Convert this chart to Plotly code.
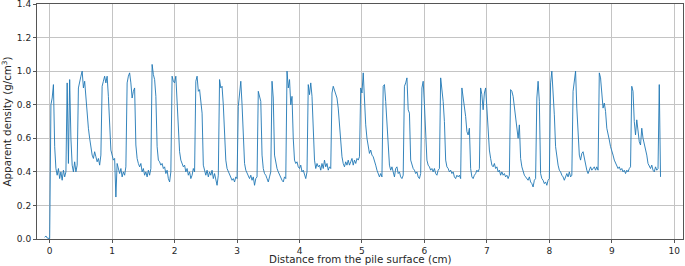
import numpy as np
import plotly.graph_objects as go

sample_start_cm = -0.10
sample_step_cm = 0.02

density = [
    # -0.10 .. 0.38
    None, 0.010, 0.018, 0.006, 0.004, 0.002, 0.80, 0.84, 0.92, 0.55, 0.42, 0.38, 0.42, 0.36, 0.40, 0.35, 0.41, 0.37, 0.40, 0.93, 0.45, 0.95, 0.60, 0.44, 0.40,
    # 0.40 .. 0.88
    0.46, 0.40, 0.44, 0.90, 0.95, 0.97, 1.00, 0.90, 0.94, 0.83, 0.75, 0.66, 0.60, 0.53, 0.50, 0.48, 0.52, 0.49, 0.46, 0.48, 0.44, 0.50, 0.91, 0.94, 0.97,
    # 0.90 .. 1.38
    0.93, 0.97, 0.85, 0.70, 0.53, 0.50, 0.47, 0.48, 0.25, 0.45, 0.42, 0.39, 0.42, 0.37, 0.40, 0.38, 0.43, 0.93, 0.97, 0.99, 0.93, 0.84, 0.88, 0.90, 0.56,
    # 1.40 .. 1.88
    0.48, 0.45, 0.43, 0.45, 0.40, 0.42, 0.38, 0.40, 0.37, 0.41, 0.38, 0.42, 1.04, 0.98, 0.95, 0.85, 0.55, 0.47, 0.46, 0.44, 0.45, 0.42, 0.43, 0.39, 0.41,
    # 1.90 .. 2.38
    0.36, 0.34, 0.40, 0.97, 0.94, 0.93, 0.97, 0.80, 0.66, 0.52, 0.47, 0.45, 0.43, 0.44, 0.40, 0.42, 0.38, 0.40, 0.36, 0.38, 0.42, 0.40, 0.94, 0.97, 0.88,
    # 2.40 .. 2.88
    0.89, 0.80, 0.75, 0.44, 0.40, 0.38, 0.41, 0.37, 0.40, 0.38, 0.41, 0.36, 0.39, 0.34, 0.32, 0.38, 0.95, 0.90, 0.91, 0.80, 0.62, 0.47, 0.42, 0.40, 0.38,
    # 2.90 .. 3.38
    0.37, 0.35, 0.36, 0.34, 0.37, 0.36, 0.79, 0.87, 0.94, 0.80, 0.60, 0.45, 0.41, 0.39, 0.37, 0.36, 0.38, 0.35, 0.37, 0.32, 0.36, 0.37, 0.88, 0.85, 0.82,
    # 3.40 .. 3.88
    0.50, 0.42, 0.39, 0.38, 0.36, 0.34, 0.37, 0.40, 0.94, 0.84, 0.50, 0.45, 0.42, 0.40, 0.38, 0.37, 0.35, 0.34, 0.37, 0.36, 1.00, 0.90, 0.95, 0.80, 0.85,
    # 3.90 .. 4.38
    0.60, 0.47, 0.45, 0.46, 0.43, 0.42, 0.44, 0.40, 0.41, 0.38, 0.36, 0.40, 0.92, 0.86, 0.93, 0.85, 0.62, 0.47, 0.42, 0.45, 0.43, 0.44, 0.41, 0.45, 0.42,
    # 4.40 .. 4.88
    0.47, 0.43, 0.45, 0.41, 0.43, 0.42, 0.87, 0.91, 0.89, 0.87, 0.84, 0.78, 0.68, 0.56, 0.49, 0.45, 0.43, 0.46, 0.44, 0.47, 0.44, 0.46, 0.48, 0.44, 0.47,
    # 4.90 .. 5.38
    0.45, 0.48, 0.47, 0.49, 0.90, 0.87, 0.99, 0.82, 0.68, 0.60, 0.54, 0.51, 0.53, 0.50, 0.49, 0.47, 0.44, 0.41, 0.39, 0.37, 0.39, 0.37, 0.91, 0.92, 0.82,
    # 5.40 .. 5.88
    0.68, 0.50, 0.44, 0.41, 0.43, 0.40, 0.37, 0.42, 0.43, 0.39, 0.40, 0.37, 0.36, 0.38, 0.91, 0.93, 0.96, 0.77, 0.75, 0.47, 0.44, 0.42, 0.41, 0.39, 0.40,
    # 5.90 .. 6.38
    0.37, 0.36, 0.39, 0.90, 0.94, 0.80, 0.67, 0.47, 0.44, 0.43, 0.41, 0.42, 0.40, 0.42, 0.39, 0.38, 0.41, 0.42, 0.96, 0.89, 0.82, 0.70, 0.47, 0.43, 0.42,
    # 6.40 .. 6.88
    0.40, 0.41, 0.39, 0.40, 0.37, 0.36, 0.38, 0.37, 0.38, 0.36, 0.90, 0.85, 0.79, 0.73, 0.64, 0.62, 0.66, 0.42, 0.37, 0.36, 0.38, 0.39, 0.41, 0.40, 0.42,
    # 6.90 .. 7.38
    0.90, 0.86, 0.77, 0.87, 0.90, 0.78, 0.64, 0.53, 0.48, 0.44, 0.43, 0.45, 0.42, 0.43, 0.40, 0.41, 0.38, 0.40, 0.38, 0.39, 0.37, 0.38, 0.36, 0.38, 0.89,
    # 7.40 .. 7.88
    0.88, 0.85, 0.78, 0.70, 0.66, 0.60, 0.68, 0.48, 0.43, 0.40, 0.38, 0.37, 0.36, 0.35, 0.37, 0.34, 0.33, 0.31, 0.35, 0.36, 0.84, 0.94, 0.82, 0.39, 0.36,
    # 7.90 .. 8.38
    0.35, 0.33, 0.34, 0.32, 0.35, 0.36, 0.93, 1.00, 0.90, 0.74, 0.55, 0.48, 0.44, 0.41, 0.40, 0.38, 0.37, 0.35, 0.37, 0.39, 0.37, 0.40, 0.37, 0.38, 0.88,
    # 8.40 .. 8.88
    0.95, 1.00, 0.78, 0.59, 0.50, 0.47, 0.51, 0.52, 0.48, 0.43, 0.41, 0.39, 0.41, 0.43, 0.41, 0.42, 0.43, 0.41, 0.43, 0.41, 0.99, 0.96, 0.88, 0.78, 0.81,
    # 8.90 .. 9.38
    0.76, 0.66, 0.61, 0.59, 0.55, 0.53, 0.50, 0.47, 0.45, 0.44, 0.42, 0.43, 0.41, 0.42, 0.40, 0.41, 0.39, 0.41, 0.40, 0.42, 0.43, 0.91, 0.88, 0.70, 0.62,
    # 9.40 .. 9.78
    0.71, 0.62, 0.58, 0.56, 0.66, 0.60, 0.57, 0.54, 0.50, 0.45, 0.43, 0.42, 0.44, 0.41, 0.40, 0.43, 0.41, 0.42, 0.92, 0.37,
]

distance_cm = sample_start_cm + sample_step_cm * np.arange(len(density))

x_ticks = [0, 1, 2, 3, 4, 5, 6, 7, 8, 9, 10]
y_ticks = [0.0, 0.2, 0.4, 0.6, 0.8, 1.0, 1.2, 1.4]
x_label = "Distance from the pile surface (cm)"
y_label = "Apparent density (g/cm<sup>3</sup>)"

fig = go.Figure()
fig.add_trace(go.Scatter(
    x=distance_cm, y=density, mode="lines",
    line=dict(color="#1f77b4", width=0.9),
    connectgaps=False, showlegend=False,
))

tick_font = dict(family="DejaVu Sans", size=9, color="#262626")
title_font = dict(family="DejaVu Sans", size=10.3, color="#262626")
axis_common = dict(
    showgrid=True, gridcolor="#c4c4c4", gridwidth=0.8,
    showline=True, linecolor="#555555", linewidth=1, mirror=True,
    ticks="outside", ticklen=3, tickwidth=0.8, tickcolor="#555555",
    zeroline=False, tickfont=tick_font, automargin=False,
    ticklabeloverflow="allow",
)
fig.update_layout(
    width=685, height=266,
    margin=dict(l=37, r=2, t=4, b=27),
    paper_bgcolor="white", plot_bgcolor="white",
    font=tick_font,
    xaxis=dict(range=[-0.203, 10.14], tickvals=x_ticks, **axis_common),
    yaxis=dict(range=[0, 1.4002], tickvals=y_ticks, tickformat=".1f",
               title=dict(text=y_label, font=title_font, standoff=3), **axis_common),
    annotations=[dict(
        text=x_label, font=title_font, showarrow=False,
        xref="paper", yref="paper", x=0.5, y=0, xanchor="center",
        yanchor="bottom", yshift=-28,
    )],
)
fig.write_html(
    "out.html",
    config={"displayModeBar": False},
    post_script="document.body.style.margin='0';document.body.style.padding='0';",
)
